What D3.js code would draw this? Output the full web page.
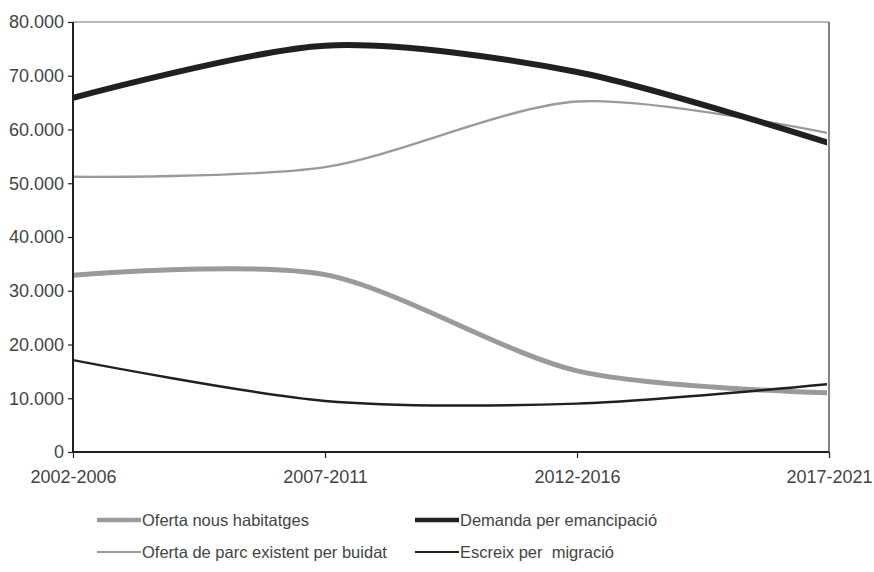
<!DOCTYPE html>
<html>
<head>
<meta charset="utf-8">
<script src="https://cdn.jsdelivr.net/npm/d3@7"></script>
<style>
  html, body { margin: 0; padding: 0; background: #fff; }
  svg { display: block; }
  text { font-family: "Liberation Sans", Arial, Helvetica, sans-serif; fill: #444; white-space: pre; }
</style>
</head>
<body>
<svg id="chart" width="874" height="572"></svg>
<script>
const categories = ["2002-2006", "2007-2011", "2012-2016", "2017-2021"];
const ofertaNous = [32900, 33000, 15100, 11000];
const demanda = [65900, 75600, 70700, 57500];
const ofertaParc = [51200, 53000, 65200, 59300];
const escreix = [17100, 9500, 9000, 12650];
const yTicks = [0, 10000, 20000, 30000, 40000, 50000, 60000, 70000, 80000];
const yTickLabels = ["0", "10.000", "20.000", "30.000", "40.000", "50.000", "60.000", "70.000", "80.000"];

const series = [
  { name: "Oferta nous habitatges", values: ofertaNous, color: "#9a9a9e", width: 5 },
  { name: "Oferta de parc existent per buidat", values: ofertaParc, color: "#9a9a9e", width: 2.4 },
  { name: "Demanda per emancipació", values: demanda, color: "#231f20", width: 6 },
  { name: "Escreix per  migració", values: escreix, color: "#231f20", width: 2.4 }
];

const svg = d3.select("#chart");
const L = 73, R = 829, T = 22, B = 452;

const x = d3.scalePoint().domain(categories).range([L, R]);
const y = d3.scaleLinear().domain([0, 80000]).range([B, T]);

svg.append("defs").append("clipPath").attr("id", "clip")
  .append("rect").attr("x", L).attr("y", T - 5).attr("width", 827 - L).attr("height", B - T + 5);

// top and right borders
svg.append("line").attr("x1", L).attr("x2", R).attr("y1", T).attr("y2", T)
  .attr("stroke", "#777").attr("stroke-width", 1.2);
svg.append("line").attr("x1", R).attr("x2", R).attr("y1", T).attr("y2", B)
  .attr("stroke", "#333").attr("stroke-width", 1.2);

// lines
const line = d3.line()
  .x((d, i) => x(categories[i]))
  .y(d => y(d))
  .curve(d3.curveCardinal.tension(0.15));

const order = [series[1], series[0], series[2], series[3]];
svg.append("g").attr("clip-path", "url(#clip)")
  .selectAll("path").data(order).join("path")
  .attr("d", d => line(d.values))
  .attr("fill", "none")
  .attr("stroke", d => d.color)
  .attr("stroke-width", d => d.width);

// y axis
const yAxis = svg.append("g").attr("transform", `translate(${L},0)`)
  .call(d3.axisLeft(y).tickValues(yTicks).tickSize(5).tickPadding(4)
    .tickFormat((d, i) => yTickLabels[i]));
yAxis.select(".domain").attr("stroke", "#231f20").attr("stroke-width", 2)
  .attr("d", `M0,${T}V${B}`);
yAxis.selectAll(".tick line").attr("stroke", "#231f20").attr("stroke-width", 1.2);
yAxis.selectAll(".tick text").attr("font-size", 18).attr("fill", "#444")
  .attr("font-family", "Liberation Sans, Arial, sans-serif");

// x axis
const xAxis = svg.append("g").attr("transform", `translate(0,${B})`)
  .call(d3.axisBottom(x).tickSize(6).tickPadding(12));
xAxis.select(".domain").attr("stroke", "#231f20").attr("stroke-width", 2)
  .attr("d", `M${L},0H${R}`);
xAxis.selectAll(".tick line").attr("stroke", "#231f20").attr("stroke-width", 1.2);
xAxis.selectAll(".tick text").attr("font-size", 18).attr("fill", "#444")
  .attr("font-family", "Liberation Sans, Arial, sans-serif");

// legend
const legendPos = [
  { s: series[0], x: 97, y: 520 },
  { s: series[2], x: 415, y: 520 },
  { s: series[1], x: 97, y: 552 },
  { s: series[3], x: 415, y: 552 }
];
const lg = svg.append("g").selectAll("g").data(legendPos).join("g")
  .attr("transform", d => `translate(${d.x},${d.y})`);
lg.append("line").attr("x1", 0).attr("x2", 44).attr("y1", 0).attr("y2", 0)
  .attr("stroke", d => d.s.color)
  .attr("stroke-width", d => d.s.width >= 5 ? 4.5 : 2.2);
lg.append("text").attr("x", 45).attr("y", 0).attr("dy", "0.35em")
  .attr("font-size", 16.5).text(d => d.s.name);
</script>
</body>
</html>
